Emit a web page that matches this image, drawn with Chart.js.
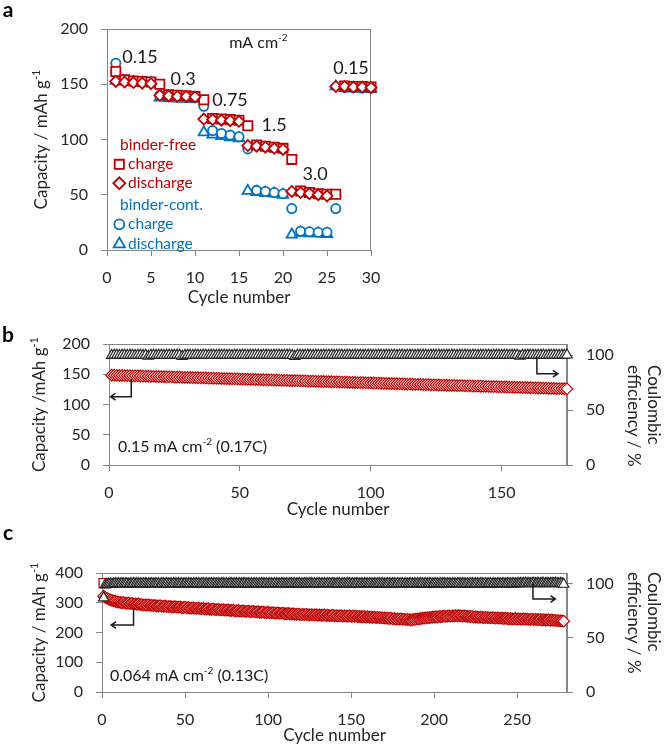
<!DOCTYPE html>
<html>
<head>
<meta charset="utf-8">
<script src="https://cdn.jsdelivr.net/npm/chart.js@4.4.0/dist/chart.umd.min.js"></script>
<style>
  body { margin: 0; background: #fff; width: 666px; height: 747px; position: relative; overflow: hidden; }
  canvas { position: absolute; left: 0; }
</style>
</head>
<body>
<canvas id="chartA" width="400" height="312" style="top:0;width:400px;height:312px"></canvas>
<canvas id="chartB" width="666" height="206" style="top:318px;width:666px;height:206px"></canvas>
<canvas id="chartC" width="666" height="222" style="top:525px;width:666px;height:222px"></canvas>
<script>
// ---- panel a : rate capability ----
const cyclesA = [1,2,3,4,5,6,7,8,9,10,11,12,13,14,15,16,17,18,19,20,21,22,23,24,25,26,27,28,29,30];
const bfCharge = [161.5,154,153,152.5,152,150,140.5,140,139.5,139,136,119,118.5,118,117.5,112.5,95,94,93,92,82,53.5,52,51,50.5,50.5,148.5,148,148,147.5];
const bfDischarge = [152.5,152,151.5,151,150.5,140,139.5,139,139,138.5,118.5,118,117.5,117,116.5,94.5,94,93,92,91,53,52,51,50,49,148,148,147.5,147.5,147];
const bcCharge = [169,154,153,152.5,152,140,139,138.5,138,138,130,108,105.5,104,102.5,91.5,54,53,52,51,37.5,17,16.5,16,16,37.5,147,147,146.5,146.5];
const bcDischarge = [153,152.5,152,151.5,151,138,137.5,137,137,136.5,106.5,104.5,103,102,101,53.5,52.5,51.5,51,50,14,15.5,15,15,14.5,148,146.5,146,146,145.5];
const rateLabels = ['0.15', '0.3', '0.75', '1.5', '3.0', '0.15'];

// ---- panel b : 0.15 mA cm-2, cycles 1..175 ----
const capB = [
  148.5,148.4,148.2,148.1,148.0,147.8,147.7,147.6,147.4,147.3,
  147.2,147.1,146.9,146.8,146.7,146.5,146.4,146.3,146.1,146.0,
  145.9,145.8,145.6,145.5,145.4,145.2,145.1,145.0,144.8,144.7,
  144.6,144.5,144.3,144.2,144.1,143.9,143.8,143.7,143.5,143.4,
  143.3,143.2,143.0,142.9,142.8,142.6,142.5,142.4,142.2,142.1,
  142.0,141.9,141.7,141.6,141.5,141.3,141.2,141.1,140.9,140.8,
  140.7,140.6,140.4,140.3,140.2,140.0,139.9,139.8,139.6,139.5,
  139.4,139.3,139.1,139.0,138.9,138.7,138.6,138.5,138.3,138.2,
  138.1,138.0,137.8,137.7,137.6,137.4,137.3,137.2,137.0,136.9,
  136.8,136.7,136.5,136.4,136.3,136.1,136.0,135.9,135.7,135.6,
  135.5,135.4,135.2,135.1,135.0,134.8,134.7,134.6,134.4,134.3,
  134.2,134.1,133.9,133.8,133.7,133.5,133.4,133.3,133.1,133.0,
  132.9,132.8,132.6,132.5,132.4,132.2,132.1,132.0,131.8,131.7,
  131.6,131.5,131.3,131.2,131.1,130.9,130.8,130.7,130.5,130.4,
  130.3,130.2,130.0,129.9,129.8,129.6,129.5,129.4,129.2,129.1,
  129.0,128.9,128.7,128.6,128.5,128.3,128.2,128.1,127.9,127.8,
  127.7,127.6,127.4,127.3,127.2,127.0,126.9,126.8,126.6,126.5,
  126.4,126.3,126.1,126.0,125.9
];
const ceB = [
  99.7,99.9,99.8,99.6,99.9,99.8,99.7,99.9,99.8,99.6,
  99.8,99.9,99.7,99.8,98.9,99.8,99.9,99.7,99.8,99.9,
  99.6,99.8,99.9,99.7,99.8,99.9,99.8,98.8,99.7,99.9,
  99.8,99.7,99.9,99.8,99.6,99.9,99.8,99.7,99.9,99.8,
  99.7,99.9,99.8,99.9,99.7,99.8,99.6,99.9,99.8,99.7,
  99.9,99.8,99.7,99.9,99.8,99.8,99.9,99.7,99.8,99.9,
  99.8,99.7,99.9,99.8,99.9,99.7,99.8,99.9,99.8,99.7,
  98.8,99.8,99.9,99.7,99.8,99.9,99.8,99.7,99.9,99.8,
  99.7,99.9,99.8,99.8,99.9,99.7,99.8,99.9,99.8,99.7,
  99.9,99.8,99.7,99.9,99.8,99.9,99.7,99.8,99.9,99.8,
  99.7,99.8,99.9,99.8,99.7,99.9,99.8,99.8,99.9,99.7,
  99.8,99.9,99.7,99.8,99.9,99.8,99.7,99.9,99.8,99.9,
  99.8,99.7,99.9,99.8,99.8,99.9,99.7,99.8,99.9,99.8,
  99.9,99.8,99.7,99.9,99.8,99.9,99.8,99.7,99.9,99.8,
  99.7,99.9,99.8,99.8,99.9,99.7,99.8,99.9,99.8,99.7,
  99.9,99.8,99.7,99.9,99.8,99.8,98.9,99.8,99.7,99.9,
  99.8,99.9,99.7,99.8,99.9,99.8,99.7,99.9,99.8,99.9,
  99.8,99.7,99.9,99.8,100.0
];

// ---- panel c : 0.064 mA cm-2, cycles 1..278 ----
const chargeC = [366];
const capC = [
  322,318,315,312,310,308,306,305,303,302,
  301,300,301,299,298,299,297,298,296,296,
  295,296,294,294,292,293,292,293,291,291,
  290,291,289,289,290,288,288,289,287,287,
  288,286,286,287,285,285,286,284,284,285,
  283,284,282,282,283,281,281,282,280,280,
  281,279,279,280,278,278,279,277,277,278,
  276,276,277,275,275,276,274,274,275,273,
  273,274,272,272,273,271,271,272,270,270,
  271,269,269,270,268,268,269,267,267,268,
  266,266,267,265,265,266,264,264,265,263,
  263,264,263,262,263,262,261,262,261,260,
  261,260,261,260,259,260,259,259,260,258,
  259,258,258,259,257,258,257,257,258,256,
  257,256,256,257,255,256,255,255,256,254,
  255,254,255,253,254,253,253,254,252,253,
  252,252,251,252,250,251,250,250,249,249,
  248,248,247,248,246,247,245,246,245,246,
  244,245,243,244,243,242,243,244,245,246,
  246,247,248,248,249,250,250,251,252,252,
  253,252,254,253,254,255,254,255,256,255,
  256,256,257,256,257,256,255,256,255,254,
  254,253,254,252,253,252,251,252,251,250,
  251,250,250,249,250,249,248,249,248,248,
  248,247,248,247,246,247,246,246,247,245,
  246,245,245,246,244,245,244,244,245,243,
  244,243,243,244,242,243,242,242,243,241,
  242,241,241,240,240,239,239,238
];
const ceC = [
  87.0,99.1,99.4,99.6,99.8,99.7,99.9,100.1,99.8,100.0,
  99.9,100.2,99.8,100.0,100.1,99.7,100.0,99.9,100.2,99.8,
  100.0,99.9,100.1,99.8,100.0,100.2,99.9,99.8,100.1,100.0,
  99.8,100.1,99.9,100.0,99.7,100.1,100.0,99.9,100.2,99.8,
  100.0,99.9,100.1,100.0,99.8,100.2,99.9,100.0,99.8,100.1,
  99.9,100.0,100.2,99.8,100.0,99.9,100.1,100.0,99.8,100.1,
  100.0,99.8,100.1,99.9,100.0,100.2,99.8,100.0,99.9,100.1,
  99.9,100.1,100.0,99.8,100.1,99.9,100.0,100.2,99.8,100.0,
  100.1,99.9,100.0,99.8,100.2,100.0,99.9,100.1,99.8,100.0,
  99.9,100.0,100.1,99.9,99.8,100.2,100.0,99.9,100.1,99.8,
  100.0,100.1,99.9,100.0,99.8,100.1,99.9,100.2,100.0,99.8,
  100.1,99.9,100.0,100.2,99.8,100.0,99.9,100.1,100.0,99.9,
  99.8,100.0,100.1,99.9,100.0,100.2,99.8,100.1,99.9,100.0,
  100.0,99.8,100.1,100.0,99.9,100.1,100.0,99.8,100.2,99.9,
  99.9,100.1,100.0,99.8,100.0,100.1,99.9,100.0,100.2,99.8,
  100.0,99.9,100.2,100.0,99.8,100.1,99.9,100.0,100.1,99.9,
  100.1,100.0,99.8,100.1,99.9,100.0,100.2,99.8,100.0,99.9,
  99.9,100.1,100.0,99.8,100.1,100.0,99.9,100.2,99.8,100.0,
  100.0,99.8,100.1,99.9,100.0,100.1,99.9,100.0,99.8,100.2,
  99.9,100.0,100.1,99.8,100.0,99.9,100.2,100.0,99.9,100.1,
  100.0,99.9,99.8,100.1,100.0,100.2,99.9,100.0,100.1,99.8,
  100.1,100.0,99.9,100.0,100.2,99.8,100.0,100.1,99.9,100.0,
  99.8,100.1,100.0,99.9,100.1,100.0,99.8,100.2,100.0,99.9,
  100.0,99.9,100.1,100.0,99.8,100.1,99.9,100.0,100.2,99.9,
  100.1,100.0,99.9,100.2,100.0,99.8,100.1,100.0,99.9,100.1,
  100.2,100.4,100.1,100.3,100.5,100.2,100.4,100.1,100.3,100.5,
  100.2,100.4,100.3,100.1,100.5,100.3,100.2,100.4,100.1,100.3,
  100.4,100.2,100.5,100.3,100.1,100.4,100.2,99.6
];

const FONT = 'Lato, "Open Sans", sans-serif';
const RED = '#c00000';
const BLUE = '#0070c0';
const DARK = '#262626';
const AXIS = '#868686';

Chart.defaults.font.family = FONT;
Chart.defaults.color = DARK;

function pts(ys, xs) {
    return ys.map((y, i) => ({ x: xs ? xs[i] : i + 1, y }));
}

function marker(style, color, radius, bw) {
    return {
        showLine: false,
        clip: false,
        pointStyle: style,
        pointRadius: radius,
        pointHoverRadius: radius,
        pointBorderWidth: bw || 1.8,
        pointBorderColor: color,
        pointBackgroundColor: '#fff',
        borderColor: color,
        backgroundColor: '#fff'
    };
}

function axis(o) {
    return {
        type: 'linear',
        position: o.position,
        min: o.min,
        max: o.max,
        ticks: {
            stepSize: o.step,
            includeBounds: false,
            maxRotation: 0,
            color: DARK,
            font: { family: FONT, size: 16 },
            padding: o.pad
        },
        grid: { drawOnChartArea: false, tickLength: 6, tickColor: AXIS, color: AXIS },
        border: { color: AXIS, width: 1 },
        title: o.title
            ? { display: true, text: o.title, color: DARK, font: { family: FONT, size: 17 }, padding: { top: 0, bottom: o.titlePad } }
            : { display: false },
        afterFit: s => {
            if (o.width) s.width = o.width;
            if (o.height) s.height = o.height;
        }
    };
}

// text with '^' parts drawn as superscripts
function drawRich(ctx, parts, x, y, size, color, align, rot, weight) {
    const w0 = weight || 'normal';
    const main = w0 + ' ' + size + 'px ' + FONT;
    const sup = w0 + ' ' + Math.round(size * 0.62) + 'px ' + FONT;
    ctx.save();
    ctx.translate(x, y);
    if (rot) ctx.rotate(rot);
    ctx.fillStyle = color;
    ctx.textBaseline = 'middle';
    ctx.textAlign = 'left';
    let w = 0;
    parts.forEach(p => {
        const isSup = p[0] === '^';
        ctx.font = isSup ? sup : main;
        w += ctx.measureText(isSup ? p.slice(1) : p).width;
    });
    let cx = align === 'center' ? -w / 2 : align === 'right' ? -w : 0;
    parts.forEach(p => {
        const isSup = p[0] === '^';
        const t = isSup ? p.slice(1) : p;
        ctx.font = isSup ? sup : main;
        ctx.fillText(t, cx, isSup ? -size * 0.33 : 0);
        cx += ctx.measureText(t).width;
    });
    ctx.restore();
}

function drawArrow(ctx, p) {
    ctx.save();
    ctx.strokeStyle = '#1a1a1a';
    ctx.lineWidth = 1.5;
    ctx.beginPath();
    p.forEach((q, i) => (i ? ctx.lineTo(q[0], q[1]) : ctx.moveTo(q[0], q[1])));
    const a = p[p.length - 2], b = p[p.length - 1];
    const ang = Math.atan2(b[1] - a[1], b[0] - a[0]);
    ctx.moveTo(b[0] - 6 * Math.cos(ang - 0.6), b[1] - 6 * Math.sin(ang - 0.6));
    ctx.lineTo(b[0], b[1]);
    ctx.lineTo(b[0] - 6 * Math.cos(ang + 0.6), b[1] - 6 * Math.sin(ang + 0.6));
    ctx.stroke();
    ctx.restore();
}

function legendMark(ctx, style, color, radius, x, y) {
    ctx.save();
    ctx.fillStyle = '#fff';
    ctx.strokeStyle = color;
    ctx.lineWidth = 1.8;
    Chart.helpers.drawPoint(ctx, { pointStyle: style, radius, borderWidth: 1.8, rotation: 0 }, x, y);
    ctx.restore();
}

const framePlugin = {
    id: 'frame',
    beforeDatasetsDraw(chart) {
        const { ctx, chartArea: a } = chart;
        ctx.save();
        ctx.strokeStyle = AXIS;
        ctx.lineWidth = 1;
        ctx.beginPath();
        ctx.moveTo(a.left, a.top + 0.5);
        ctx.lineTo(a.right, a.top + 0.5);
        ctx.moveTo(a.right - 0.5, a.top);
        ctx.lineTo(a.right - 0.5, a.bottom);
        ctx.stroke();
        ctx.restore();
    }
};

function notes(draw) {
    return { id: 'notes', afterDraw: chart => draw(chart.ctx, chart.scales, chart.chartArea) };
}

function rightTitle(ctx, top) {
    drawRich(ctx, ['Coulombic'], 653, top, 17, DARK, 'left', Math.PI / 2);
    drawRich(ctx, ['efficiency / %'], 633, top, 17, DARK, 'left', Math.PI / 2);
}

const baseOptions = {
    responsive: false,
    animation: false,
    devicePixelRatio: 1,
    plugins: { legend: { display: false }, tooltip: { enabled: false } }
};

// ---------------- panel a ----------------
new Chart(document.getElementById('chartA'), {
    type: 'scatter',
    data: {
        datasets: [
            { data: pts(bfDischarge, cyclesA), ...marker('rectRot', RED, 5.5) },
            { data: pts(bfCharge, cyclesA), ...marker('rect', RED, 6.5) },
            { data: pts(bcCharge, cyclesA), ...marker('circle', BLUE, 4.6) },
            { data: pts(bcDischarge, cyclesA), ...marker('triangle', BLUE, 6) }
        ]
    },
    options: {
        ...baseOptions,
        layout: { padding: { top: 29, right: 29, left: 0, bottom: 0 } },
        scales: {
            x: axis({ position: 'bottom', min: 0, max: 30, step: 5, pad: 12, height: 62, title: 'Cycle number', titlePad: 4 }),
            y: axis({ position: 'left', min: 0, max: 200, step: 50, pad: 13, width: 107 })
        }
    },
    plugins: [framePlugin, notes((ctx, s, area) => {
        const X = v => s.x.getPixelForValue(v), Y = v => s.y.getPixelForValue(v);
        const at = [[3.75, 174.7], [8.64, 154.8], [13.98, 135.7], [18.98, 113.1], [23.64, 68.8], [27.73, 164.7]];
        rateLabels.forEach((t, i) => drawRich(ctx, [t], X(at[i][0]), Y(at[i][1]), 18, '#1a1a1a', 'center'));
        drawRich(ctx, ['mA cm', '^-2'], X(17.2), Y(187.3), 16, '#1a1a1a', 'center');
        // legend
        drawRich(ctx, ['binder-free'], X(1.48), Y(95), 15.5, RED, 'left');
        legendMark(ctx, 'rect', RED, 6.5, X(1.4), Y(77.5));
        drawRich(ctx, ['charge'], X(2.4), Y(77.5), 15.5, RED, 'left');
        legendMark(ctx, 'rectRot', RED, 6, X(1.4), Y(60.4));
        drawRich(ctx, ['discharge'], X(2.4), Y(60.4), 15.5, RED, 'left');
        drawRich(ctx, ['binder-cont.'], X(1.48), Y(40.7), 15.5, BLUE, 'left');
        legendMark(ctx, 'circle', BLUE, 5, X(1.4), Y(23.2));
        drawRich(ctx, ['charge'], X(2.4), Y(23.2), 15.5, BLUE, 'left');
        legendMark(ctx, 'triangle', BLUE, 6.5, X(1.4), Y(5.4));
        drawRich(ctx, ['discharge'], X(2.4), Y(5.4), 15.5, BLUE, 'left');
        // titles
        drawRich(ctx, ['Capacity / mAh g', '^-1'], 42, (area.top + area.bottom) / 2, 17, DARK, 'center', -Math.PI / 2);
        drawRich(ctx, ['a'], 8, 10, 21, '#000', 'center', 0, 'bold');
    })]
});

// ---------------- panel b ----------------
new Chart(document.getElementById('chartB'), {
    type: 'scatter',
    data: {
        datasets: [
            { data: pts(ceB), yAxisID: 'y2', ...marker('triangle', DARK, 6, 1.2) },
            { data: pts(capB), yAxisID: 'y', ...marker('rectRot', RED, 5.8, 1.2) }
        ]
    },
    options: {
        ...baseOptions,
        layout: { padding: { top: 26, right: 0, left: 0, bottom: 0 } },
        scales: {
            x: axis({ position: 'bottom', min: 0, max: 175, step: 50, pad: 12, height: 59, title: 'Cycle number', titlePad: 4 }),
            y: axis({ position: 'left', min: 0, max: 200, step: 50, pad: 13, width: 109 }),
            y2: axis({ position: 'right', min: 0, max: 110, step: 50, pad: 13, width: 99 })
        }
    },
    plugins: [framePlugin, notes((ctx, s, area) => {
        const X = v => s.x.getPixelForValue(v), Y = v => s.y.getPixelForValue(v), Y2 = v => s.y2.getPixelForValue(v);
        drawRich(ctx, ['0.15 mA cm', '^-2', ' (0.17C)'], X(3.4), Y(29.7), 16, '#1a1a1a', 'left');
        drawArrow(ctx, [[X(8.5), Y(142)], [X(8.5), Y(113)], [X(0.6), Y(113)]]);
        drawArrow(ctx, [[X(163.5), Y2(98)], [X(163.5), Y2(83)], [X(171.5), Y2(83)]]);
        drawRich(ctx, ['Capacity /mAh g', '^-1'], 40, (area.top + area.bottom) / 2, 17, DARK, 'center', -Math.PI / 2);
        rightTitle(ctx, area.top + 21);
        drawRich(ctx, ['b'], 8, 17, 21, '#000', 'center', 0, 'bold');
    })]
});

// ---------------- panel c ----------------
new Chart(document.getElementById('chartC'), {
    type: 'scatter',
    data: {
        datasets: [
            { data: pts(ceC), yAxisID: 'y2', ...marker('triangle', DARK, 6, 1.2) },
            { data: pts(chargeC), yAxisID: 'y', ...marker('rect', RED, 6.5, 1.2) },
            { data: pts(capC), yAxisID: 'y', ...marker('rectRot', RED, 5.8, 1.2) }
        ]
    },
    options: {
        ...baseOptions,
        layout: { padding: { top: 48, right: 0, left: 0, bottom: 0 } },
        scales: {
            x: axis({ position: 'bottom', min: 0, max: 280, step: 50, pad: 12, height: 55, title: 'Cycle number', titlePad: 1 }),
            y: axis({ position: 'left', min: 0, max: 400, step: 100, pad: 13, width: 102 }),
            y2: axis({ position: 'right', min: 0, max: 110, step: 50, pad: 13, width: 99 })
        }
    },
    plugins: [framePlugin, notes((ctx, s, area) => {
        const X = v => s.x.getPixelForValue(v), Y = v => s.y.getPixelForValue(v), Y2 = v => s.y2.getPixelForValue(v);
        drawRich(ctx, ['0.064 mA cm', '^-2', ' (0.13C)'], X(4.8), Y(53.8), 16, '#1a1a1a', 'left');
        drawArrow(ctx, [[X(19), Y(282)], [X(19), Y(225)], [X(5.5), Y(225)]]);
        drawArrow(ctx, [[X(259.5), Y2(100)], [X(259.5), Y2(86)], [X(273), Y2(86)]]);
        drawRich(ctx, ['Capacity / mAh g', '^-1'], 40, (area.top + area.bottom) / 2, 17, DARK, 'center', -Math.PI / 2);
        rightTitle(ctx, area.top - 1);
        drawRich(ctx, ['c'], 8, 8, 21, '#000', 'center', 0, 'bold');
    })]
});
</script>
</body>
</html>
